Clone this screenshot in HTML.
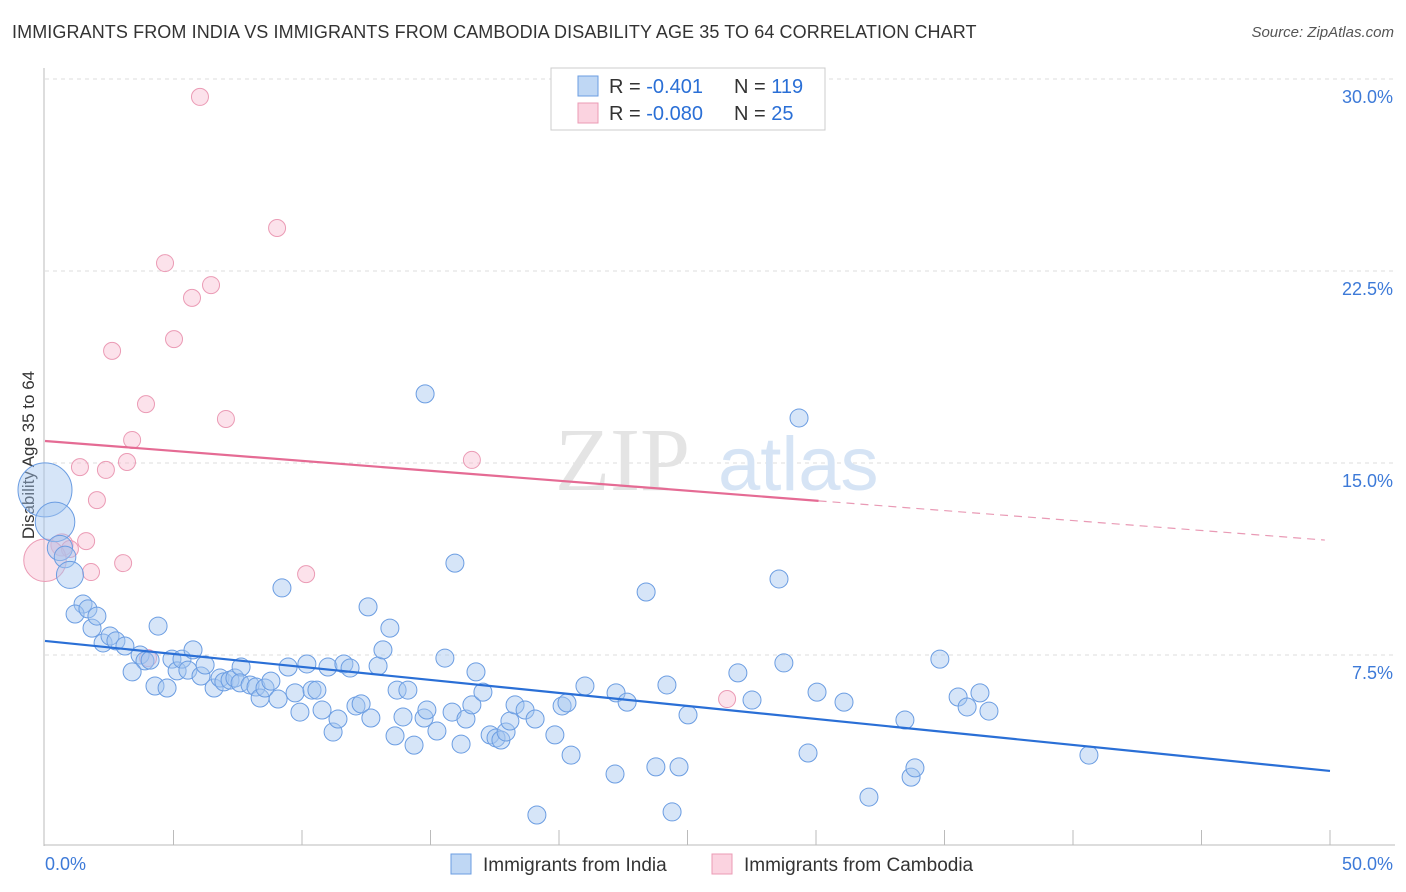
<!DOCTYPE html>
<html><head><meta charset="utf-8">
<style>
body{margin:0;background:#fff;font-family:"Liberation Sans",sans-serif;}
#wrap{position:relative;width:1406px;height:892px;overflow:hidden;}
.title{position:absolute;left:12px;top:22px;font-size:18px;color:#333;letter-spacing:0.1px}
.src{position:absolute;right:12px;top:24px;font-size:15px;color:#555;font-style:italic}
</style></head>
<body>
<div id="wrap">
<div class="title">IMMIGRANTS FROM INDIA VS IMMIGRANTS FROM CAMBODIA DISABILITY AGE 35 TO 64 CORRELATION CHART</div>
<div class="src">Source: ZipAtlas.com</div>
<svg id="chart" width="1406" height="892" style="position:absolute;left:0;top:0"></svg>
</div>
<script>
const blueX=[0,0.39,0.58,0.78,0.97,1.48,1.17,1.67,1.83,2.02,2.26,2.53,2.76,3.11,3.7,3.89,4.09,4.4,4.28,3.39,4.75,4.94,5.14,5.33,5.76,5.56,6.07,6.23,6.58,6.81,6.96,7.2,7.39,7.63,7.59,7.98,8.21,8.37,8.56,8.79,9.07,9.22,9.46,9.73,9.92,10.19,10.39,10.58,10.78,11.01,11.21,11.4,11.63,11.87,12.1,12.3,12.57,12.68,12.96,13.15,13.42,13.7,13.62,13.93,14.12,14.36,14.75,14.86,14.79,15.25,15.56,15.84,15.95,16.19,16.38,16.61,16.77,17.04,17.32,17.55,17.74,17.94,18.09,18.29,18.68,19.07,19.84,20.12,20.31,20.47,21.01,22.18,22.22,22.65,23.39,23.77,24.2,24.4,24.67,25.02,26.96,27.51,28.56,28.75,29.34,29.69,30.04,31.09,32.06,33.46,33.7,33.85,34.82,35.53,35.88,36.38,36.73,40.62,19.14];
const blueY=[13.95,12.7,11.68,11.33,10.63,9.49,9.1,9.3,8.55,9.02,7.97,8.24,8.05,7.85,7.5,7.27,7.3,8.63,6.29,6.84,6.21,7.34,6.88,7.34,7.7,6.91,6.68,7.11,6.21,6.6,6.45,6.52,6.6,7.03,6.41,6.33,6.25,5.82,6.21,6.48,5.78,10.12,7.03,6.02,5.27,7.15,6.13,6.13,5.35,7.03,4.49,5.0,7.15,6.99,5.51,5.59,9.38,5.04,7.07,7.7,8.55,6.13,4.34,5.08,6.13,3.98,5.04,5.35,17.7,4.53,7.38,5.27,11.09,4.02,5.0,5.55,6.84,6.05,4.38,4.26,4.18,4.49,4.92,5.55,5.35,5.0,4.38,5.51,5.63,3.59,6.29,2.85,6.02,5.66,9.96,3.13,6.33,1.37,3.13,5.16,6.8,5.74,10.47,7.19,16.76,3.67,6.05,5.66,1.95,4.96,2.73,3.09,7.34,5.86,5.47,6.02,5.31,3.59,1.25];
const blueSize=[3,2.2,1.4,1.2,1.5];
const pinkX=[6.03,9.03,4.67,6.46,5.72,5.02,2.61,3.93,7.04,3.39,3.19,1.36,2.37,16.61,2.02,0.66,1.6,0.97,0,1.79,3.04,10.16,4.01,26.54];
const pinkY=[29.3,24.18,22.81,21.95,21.45,19.84,19.38,17.3,16.72,15.9,15.04,14.84,14.73,15.12,13.55,11.8,11.95,11.64,11.2,10.74,11.09,10.66,7.38,5.78];
const pinkSize=[1,1,1,1,1,1,1,1,1,1,1,1,1,1,1,1.3,1,1,2.5,1,1,1,1,1];
const blueTrend=[8.05,2.97];
const pinkTrend=[15.86,11.99];
const pinkSolidEnd=30.1;
const yTicks=[7.5,15,22.5,30];
const yTickLabels=["7.5%","15.0%","22.5%","30.0%"];
const legendR=["-0.401","-0.080"];
const legendN=["119","25"];

const NS="http://www.w3.org/2000/svg";
const svg=document.getElementById('chart');
const X=v=>45+v/50*1285;
const Y=v=>847-v/7.5*192;
function mk(tag,attrs,parent){const e=document.createElementNS(NS,tag);for(const k in attrs)e.setAttribute(k,attrs[k]);(parent||svg).appendChild(e);return e;}

// top dashed gridline
let tg=mk('line',{x1:45,x2:1395,y1:79,y2:79,stroke:'#ddd','stroke-dasharray':'4,4'});


yTicks.forEach((t,i)=>{
  const g=mk('line',{x1:45,x2:1395,y1:Y(t),y2:Y(t),stroke:'#ddd','stroke-dasharray':'4,4'});
  
  
  const tx=mk('text',{x:1393,y:Y(t)+24,'text-anchor':'end','font-size':18,fill:'#3d7ad8'});
  tx.textContent=yTickLabels[i];
  
  
});
// axes
let ax=mk('line',{x1:44,x2:44,y1:68,y2:846,stroke:'#bbb'});


let bx=mk('line',{x1:44,x2:1395,y1:845,y2:845,stroke:'#bbb'});


for(let i=1;i<=10;i++){
  const t=mk('line',{x1:X(i*5),x2:X(i*5),y1:830,y2:845,stroke:'#bbb'});
  
  
}
let xl0=mk('text',{x:45,y:870,'font-size':18,fill:'#3d7ad8'});xl0.textContent='0.0%';


let xl1=mk('text',{x:1393,y:870,'font-size':18,fill:'#3d7ad8','text-anchor':'end'});xl1.textContent='50.0%';


let yt=mk('text',{x:34,y:455,'font-size':17,fill:'#333','text-anchor':'middle',transform:'rotate(-90 34 455)'});yt.textContent='Disability Age 35 to 64';


// watermark
let wm=mk('text',{x:555,y:490,'font-size':90,fill:'#e4e4e4','font-family':'Liberation Serif'});wm.textContent='ZIP';


let wm2=mk('text',{x:718,y:490,'font-size':76,fill:'#d6e4f5'});wm2.textContent='atlas';



// points
pinkX.forEach((x,i)=>{
  const c=mk('circle',{cx:X(x),cy:Y(pinkY[i]),r:8.5*pinkSize[i],fill:'rgba(248,182,204,0.4)',stroke:'#eb9bb5','stroke-width':1});
  
  
});
blueX.forEach((x,i)=>{
  const s=blueSize[i]||1;
  const c=mk('circle',{cx:X(x),cy:Y(blueY[i]),r:9*s,fill:'rgba(164,198,240,0.45)',stroke:'#6b9de2','stroke-width':1});
  
  
});
// trends
let bt=mk('line',{x1:X(0),y1:Y(blueTrend[0]),x2:X(50),y2:Y(blueTrend[1]),stroke:'#2a6fd6','stroke-width':2.2});


const pAt=x=>pinkTrend[0]+(pinkTrend[1]-pinkTrend[0])*x/49.8;
let pt=mk('line',{x1:X(0),y1:Y(pinkTrend[0]),x2:X(pinkSolidEnd),y2:Y(pAt(pinkSolidEnd)),stroke:'#e56b94','stroke-width':2.2});


let pd=mk('line',{x1:X(pinkSolidEnd),y1:Y(pAt(pinkSolidEnd)),x2:X(49.8),y2:Y(pinkTrend[1]),stroke:'#e99ab5','stroke-width':1.2,'stroke-dasharray':'8,6'});



// legend top
let lg=mk('g',{});


mk('rect',{x:551,y:68,width:274,height:62,fill:'#fff',stroke:'#ccc'},lg);
const cols=[['rgba(164,198,240,0.7)','#6b9de2'],['rgba(248,182,204,0.6)','#eb9bb5']];
[0,1].forEach(i=>{
  const y=86+i*27;
  const r=mk('rect',{x:578,y:y-10,width:20,height:20,fill:cols[i][0],stroke:cols[i][1]},lg);
  
  
  const t=mk('text',{x:609,y:y+7,'font-size':20,fill:'#333'},lg);
  t.innerHTML='R = <tspan fill="#2a6fd6">'+legendR[i]+'</tspan>';
  
  
  const n=mk('text',{x:734,y:y+7,'font-size':20,fill:'#333'},lg);
  n.innerHTML='N = <tspan fill="#2a6fd6">'+(i?' ':'')+legendN[i]+'</tspan>';
  
  
});
// bottom legend
const bl=[['Immigrants from India',451],['Immigrants from Cambodia',712]];
bl.forEach((b,i)=>{
  const r=mk('rect',{x:b[1],y:854,width:20,height:20,fill:cols[i][0],stroke:cols[i][1]});
  
  
  const t=mk('text',{x:b[1]+32,y:871,'font-size':19,fill:'#333'});
  t.textContent=b[0];
  
  
});
</script>
</body></html>
